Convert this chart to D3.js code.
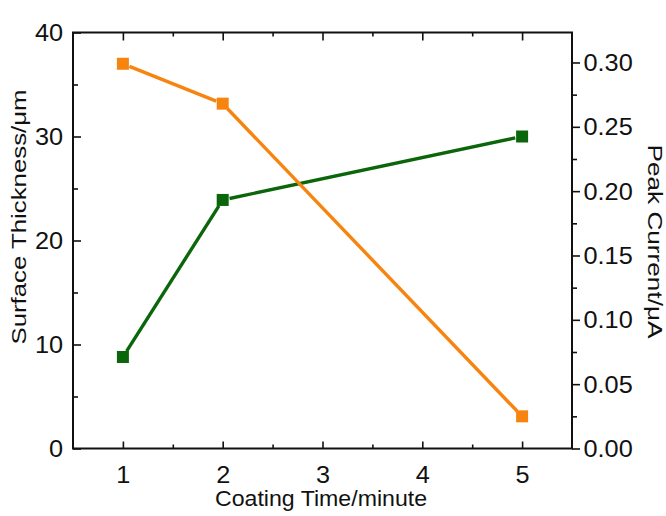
<!DOCTYPE html>
<html><head><meta charset="utf-8">
<script src="https://cdn.jsdelivr.net/npm/d3@7"></script>
<style>
body{margin:0;background:#fff}
svg text{font-family:"Liberation Sans",Arial,Helvetica,sans-serif;fill:#111}
</style>
</head><body>
<svg id="chart" width="666" height="516"></svg>
<script>
// ---- data ----
const coatingTime      = [1, 2, 5];
const surfaceThickness = [8.8, 23.9, 30.0];      // left axis, green
const peakCurrent      = [0.299, 0.268, 0.025];  // right axis, orange
const xTickValues      = [1, 2, 3, 4, 5];
const xMinorValues     = [1.5, 2.5, 3.5, 4.5];
const leftTickValues   = [0, 10, 20, 30, 40];
const leftMinorValues  = [5, 15, 25, 35];
const rightTickValues  = [0, 0.05, 0.10, 0.15, 0.20, 0.25, 0.30];
const rightMinorValues = [0.025, 0.075, 0.125, 0.175, 0.225, 0.275];
const xTitle = "Coating Time/minute";
const leftTitle = "Surface Thickness/\u03bcm";
const rightTitle = "Peak Current/\u03bcA";

// ---- layout ----
const svg = d3.select("#chart");
const L = 73, R = 572, T = 32.5, B = 448.5;
const SX = 1.1;               // horizontal text stretch of the reference
const FS = 23;
const orange = "#F6840F", green = "#0B660B";

const x  = d3.scaleLinear().domain([0.5, 5.5]).range([L, R]);
const yL = d3.scaleLinear().domain([0, 40]).range([B, T]);
const yR = d3.scaleLinear().domain([0, 0.3233]).range([B, T]);

function styleAxis(g){
  g.select(".domain").remove();
  g.selectAll(".tick line").attr("stroke", "#111").attr("stroke-width", 1.6);
}

// bottom
svg.append("g").attr("transform", `translate(0,${B})`)
  .call(d3.axisBottom(x).tickValues(xMinorValues).tickSize(-4).tickFormat(""))
  .call(styleAxis);
const gB = svg.append("g").attr("transform", `translate(0,${B})`)
  .call(d3.axisBottom(x).tickValues(xTickValues).tickSize(-7).tickFormat(d3.format("d")))
  .call(styleAxis);
gB.selectAll(".tick text").attr("y", 34.5).attr("dy", 0).attr("x", 0)
  .attr("transform", `scale(${SX},1)`).attr("font-size", FS).attr("text-anchor", "middle");

// top
svg.append("g").attr("transform", `translate(0,${T})`)
  .call(d3.axisTop(x).tickValues(xMinorValues).tickSize(-4).tickFormat(""))
  .call(styleAxis);
svg.append("g").attr("transform", `translate(0,${T})`)
  .call(d3.axisTop(x).tickValues(xTickValues).tickSize(-8).tickFormat(""))
  .call(styleAxis);

// left
svg.append("g").attr("transform", `translate(${L},0)`)
  .call(d3.axisLeft(yL).tickValues(leftMinorValues).tickSize(-5).tickFormat(""))
  .call(styleAxis);
const gL = svg.append("g").attr("transform", `translate(${L},0)`)
  .call(d3.axisLeft(yL).tickValues(leftTickValues).tickSize(-8).tickFormat(d3.format("d")))
  .call(styleAxis);
gL.selectAll(".tick text").attr("x", -10 / SX).attr("dy", "0.35em")
  .attr("transform", `scale(${SX},1)`).attr("font-size", FS).attr("text-anchor", "end");

// right
svg.append("g").attr("transform", `translate(${R},0)`)
  .call(d3.axisRight(yR).tickValues(rightMinorValues).tickSize(5).tickFormat(""))
  .call(styleAxis);
const gR = svg.append("g").attr("transform", `translate(${R},0)`)
  .call(d3.axisRight(yR).tickValues(rightTickValues).tickSize(8).tickFormat(d3.format(".2f")))
  .call(styleAxis);
gR.selectAll(".tick text").attr("x", 11.5 / SX).attr("dy", "0.35em")
  .attr("transform", `scale(${SX},1)`).attr("font-size", FS).attr("text-anchor", "start");

// frame
svg.append("rect").attr("x", L).attr("y", T).attr("width", R - L).attr("height", B - T)
  .attr("fill", "none").attr("stroke", "#111").attr("stroke-width", 2);

// series
function drawSeries(xs, ys, yScale, color){
  const pts = xs.map((v, i) => [x(v), yScale(ys[i])]);
  const gap = 7;
  const g = svg.append("g");
  for (let i = 0; i < pts.length - 1; i++){
    const [x1, y1] = pts[i], [x2, y2] = pts[i + 1];
    const d = Math.hypot(x2 - x1, y2 - y1), ux = (x2 - x1) / d, uy = (y2 - y1) / d;
    g.append("line")
      .attr("x1", x1 + ux * gap).attr("y1", y1 + uy * gap)
      .attr("x2", x2 - ux * gap).attr("y2", y2 - uy * gap)
      .attr("stroke", color).attr("stroke-width", 3.4);
  }
  g.selectAll("rect.m").data(pts).join("rect").attr("class", "m")
    .attr("x", d => d[0] - 6).attr("y", d => d[1] - 6)
    .attr("width", 12).attr("height", 12).attr("fill", color);
}
drawSeries(coatingTime, surfaceThickness, yL, green);
drawSeries(coatingTime, peakCurrent, yR, orange);

// titles
svg.append("text").attr("transform", "translate(321,506)")
  .attr("text-anchor", "middle").attr("font-size", 22)
  .attr("textLength", 212).attr("lengthAdjust", "spacingAndGlyphs").text(xTitle);
svg.append("text").attr("transform", "translate(26,217) rotate(-90)")
  .attr("text-anchor", "middle").attr("font-size", 19.5)
  .attr("textLength", 255).attr("lengthAdjust", "spacingAndGlyphs").text(leftTitle);
svg.append("text").attr("transform", "translate(648,241.5) rotate(90)")
  .attr("text-anchor", "middle").attr("font-size", 20)
  .attr("textLength", 194).attr("lengthAdjust", "spacingAndGlyphs").text(rightTitle);
</script>
</body></html>
